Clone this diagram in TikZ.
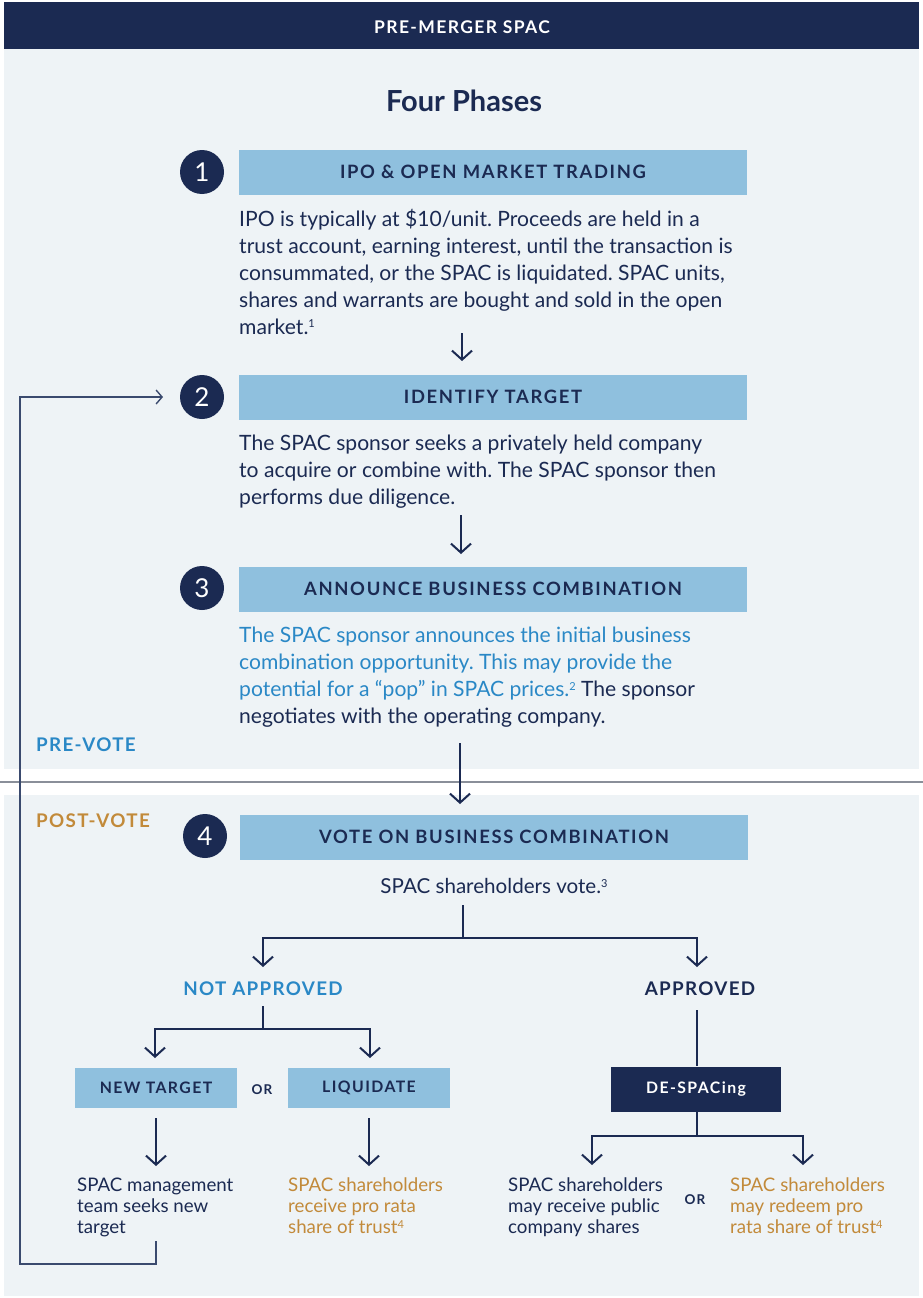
\documentclass[tikz,border=0pt]{standalone}
\usepackage{fontspec}
\setmainfont{Lato}
\usetikzlibrary{arrows.meta}
\definecolor{navy}{HTML}{1B2A52}
\definecolor{lblue}{HTML}{8FC0DE}
\definecolor{panel}{HTML}{EEF3F6}
\definecolor{tblue}{HTML}{2A88C6}
\definecolor{gold}{HTML}{C28A3A}
\definecolor{divider}{HTML}{8A8F99}
\definecolor{loopc}{HTML}{3A4A6E}
\newcommand{\spc}[1]{\addfontfeatures{LetterSpace=#1}}
\newcommand{\fnm}[1]{\raisebox{0.62ex}{\fontsize{11}{11}\selectfont #1}}
\frenchspacing
\begin{document}
\begin{tikzpicture}[x=1pt,y=-1pt,
  phasebox/.style={fill=lblue, minimum width=508, minimum height=45, inner sep=0, text=navy,
    font=\fontsize{18.4}{22}\selectfont\bfseries\spc{9}},
  smallbox/.style={fill=lblue, minimum width=162, minimum height=40, inner sep=0, text=navy,
    font=\fontsize{15.8}{18}\selectfont\bfseries\spc{9}},
  numc/.style={circle, fill=navy, minimum size=44, inner sep=0, text=white,
    font=\fontsize{26}{26}\selectfont},
  body/.style={anchor=north west, align=left, inner sep=0, text=navy,
    font=\fontsize{21.1}{27}\selectfont},
  leaf/.style={anchor=north west, align=left, inner sep=0, text=navy,
    font=\fontsize{18.7}{21}\selectfont},
  lbl/.style={inner sep=0, font=\fontsize{18.8}{22}\selectfont\bfseries\spc{7}},
  orlbl/.style={inner sep=0, text=navy, font=\fontsize{13.5}{15}\selectfont\bfseries\spc{9}},
  ln/.style={draw=navy, line width=2},
  arr/.style={draw=navy, line width=2, -{Straight Barb[length=9, width=20, line width=2]}},
  looparr/.style={draw=loopc, line width=1.4, -{Straight Barb[length=6, width=14, line width=1.4]}}
]
\useasboundingbox (0,0) rectangle (923,1298);
\fill[white] (0,0) rectangle (923,1298);
% panels
\fill[navy] (4,2) rectangle (919,49);
\fill[panel] (4,49) rectangle (919,769);
\fill[panel] (4,795) rectangle (919,1296);
\draw[divider, line width=1.3] (0,782) -- (923,782);

\node[text=white, font=\fontsize{17.5}{20}\selectfont\bfseries\spc{8}] (hdr) at (462,27) {PRE-MERGER SPAC};
\node[text=navy, font=\fontsize{29}{32}\selectfont\bfseries] (title) at (464,101) {Four Phases};

% phase 1
\node[numc] (n1) at (202,172) {1};
\node[phasebox] (b1) at (493,172) {IPO \& OPEN MARKET TRADING};
\node[body] (t1) at (239,209) {IPO is typically at \$10/unit. Proceeds are held in a\\
trust account, earning interest, until the transaction is\\
consummated, or the SPAC is liquidated. SPAC units,\\
shares and warrants are bought and sold in the open\\
market.\fnm{1}};

% phase 2
\node[numc] (n2) at (202,397) {2};
\node[phasebox] (b2) at (493,397) {IDENTIFY TARGET};
\node[body] (t2) at (239,435) {The SPAC sponsor seeks a privately held company\\
to acquire or combine with. The SPAC sponsor then\\
performs due diligence.};

% phase 3
\node[numc] (n3) at (202,588) {3};
\node[phasebox] (b3) at (493,589) {ANNOUNCE BUSINESS COMBINATION};
\node[body] (t3) at (239,627) {\textcolor{tblue}{The SPAC sponsor announces the initial business}\\
\textcolor{tblue}{combination opportunity. This may provide the}\\
\textcolor{tblue}{potential for a “pop” in SPAC prices.\fnm{2}} The sponsor\\
negotiates with the operating company.};

\node[lbl, text=tblue, anchor=west] (prevote) at (36,745) {PRE-VOTE};
\node[lbl, text=gold, anchor=west] (postvote) at (36,821) {POST-VOTE};

% phase 4
\node[numc] (n4) at (205,836) {4};
\node[phasebox] (b4) at (494,837) {VOTE ON BUSINESS COMBINATION};
\node[text=navy, inner sep=0, font=\fontsize{20.6}{24}\selectfont] (vote) at (494,886) {SPAC shareholders vote.\fnm{3}};

% arrows between phases
\coordinate (a1s) at (462,333); \coordinate (a1e) at (462,361);
\draw[arr] (a1s) -- (a1e);
\coordinate (a2s) at (461,515); \coordinate (a2e) at (461,554);
\draw[arr] (a2s) -- (a2e);
\coordinate (a3s) at (460,743); \coordinate (a3e) at (460,804);
\draw[arr] (a3s) -- (a3e);

% decision tree
\node[lbl, text=tblue] (notapp) at (263,989) {NOT APPROVED};
\node[lbl, text=navy] (app) at (700,989) {APPROVED};
\coordinate (v0) at (463,905);
\coordinate (v1) at (463,938);
\coordinate (naTop) at (263,967);
\coordinate (apTop) at (697,967);
\draw[arr] (v0) -- (v1) -| (naTop);
\draw[arr] (v1) -| (apTop);

\node[smallbox] (newt) at (156,1088) {NEW TARGET};
\node[smallbox] (liq) at (369,1088) {LIQUIDATE};
\node[orlbl] (or1) at (262,1090) {OR};
\coordinate (na0) at (263,1006);
\coordinate (na1) at (263,1029);
\coordinate (ntTop) at (155,1058);
\coordinate (lqTop) at (370,1058);
\draw[arr] (na0) -- (na1) -| (ntTop);
\draw[arr] (na1) -| (lqTop);

\node[fill=navy, minimum width=170, minimum height=45, inner sep=0, text=white,
  font=\fontsize{15.8}{18}\selectfont\bfseries\spc{9}] (desp) at (696,1089) {DE-SPACing};
\coordinate (ap0) at (697,1010);
\draw[ln] (ap0) -- (ap0 |- desp.north);
\coordinate (d1) at (697,1136);
\coordinate (pubTop) at (592,1165);
\coordinate (redTop) at (803,1165);
\draw[arr] (desp.south -| d1) -- (d1) -| (pubTop);
\draw[arr] (d1) -| (redTop);

\coordinate (ntB) at (156,1118); \coordinate (ntE) at (156,1166);
\draw[arr] (ntB) -- (ntE);
\coordinate (lqB) at (369,1118); \coordinate (lqE) at (369,1166);
\draw[arr] (lqB) -- (lqE);

\node[leaf] (mgmt) at (77,1178) {SPAC management\\ team seeks new\\ target};
\node[leaf, text=gold] (recv) at (288,1178) {SPAC shareholders\\ receive pro rata\\ share of trust\fnm{4}};
\node[leaf] (pub) at (508,1178) {SPAC shareholders\\ may receive public\\ company shares};
\node[orlbl] (or2) at (695,1200) {OR};
\node[leaf, text=gold] (redeem) at (730,1178) {SPAC shareholders\\ may redeem pro\\ rata share of trust\fnm{4}};

% loop back to phase 2
\coordinate (l0) at (156,1241);
\coordinate (l1) at (156,1264);
\coordinate (l2) at (20,1264);
\coordinate (l3) at (20,397);
\coordinate (l4) at (163,397);
\draw[looparr] (l0) -- (l1) -- (l2) -- (l3) -- (l4);
\end{tikzpicture}
\end{document}
